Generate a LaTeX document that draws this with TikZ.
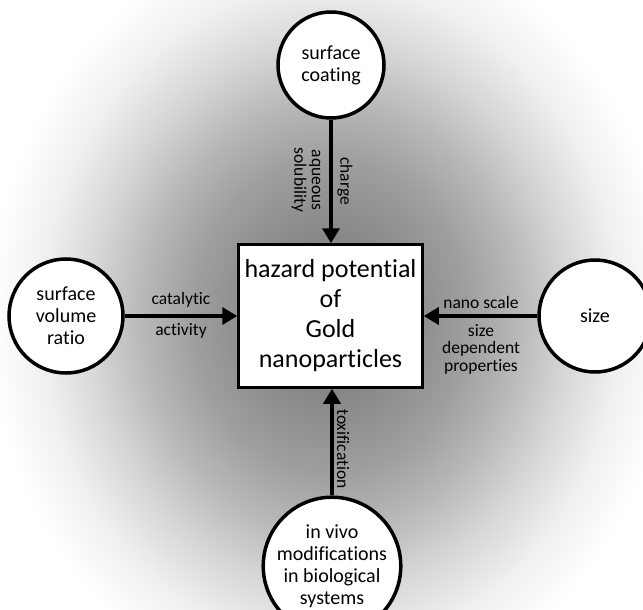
\documentclass[tikz,border=0pt]{standalone}
\usepackage{fontspec}
\setmainfont{Carlito}[Ligatures=NoCommon]
\usetikzlibrary{arrows.meta}
\pgfdeclareradialshading{bgshade}{\pgfpointorigin}{rgb(0bp)=(0.50,0.50,0.50); rgb(5bp)=(0.53,0.53,0.53); rgb(10bp)=(0.62,0.62,0.62); rgb(13.75bp)=(0.72,0.72,0.72); rgb(17.5bp)=(0.84,0.84,0.84); rgb(21.25bp)=(0.94,0.94,0.94); rgb(25bp)=(1,1,1); rgb(50bp)=(1,1,1)}
\begin{document}
\begin{tikzpicture}[x=1pt,y=-1pt,
  factor/.style={circle, draw=black, line width=3.5pt, fill=white, inner sep=0pt, align=center, font=\fontsize{20}{22}\selectfont},
  hub/.style={rectangle, draw=black, line width=2.5pt, fill=white, minimum width=184pt, minimum height=143pt, inner sep=0pt, align=center, font=\fontsize{26}{30}\selectfont},
  link/.style={line width=3.5pt, -{Triangle[length=15pt,width=17pt]}},
  lbl/.style={font=\fontsize{17.5}{17.5}\selectfont, align=center, inner sep=0pt}]
\useasboundingbox (0,0) rectangle (643,610);
\fill[white] (0,0) rectangle (643,610);
\shade[shading=bgshade] (330,316) ellipse (340pt and 390pt);
\node[hub] (box) at (330.5,316) {hazard potential\\of\\Gold\\nanoparticles};
\node[factor, minimum size=106pt] (top) at (331,65) {surface\\coating};
\node[factor, minimum size=114pt] (left) at (66,316) {surface\\volume\\ratio};
\node[factor, minimum size=112pt] (right) at (595,316) {size};
\node[factor, minimum size=110pt] (bottom) at (332,566) {in vivo\\modifications\\in biological\\systems};
\draw[link] (top.south) -- (top.south |- box.north);
\draw[link] (left.east) -- (left.east -| box.west);
\draw[link] (right.west) -- (right.west -| box.east);
\draw[link] (bottom.north) -- (bottom.north |- box.south);
\node[lbl] (cat) at (181,300) {catalytic};
\node[lbl] (act) at (181,331) {activity};
\node[lbl] (nano) at (481,302) {nano scale};
\node[lbl] (sdp) at (481,349) {size\\dependent\\properties};
\node[lbl, rotate=-90] (charge) at (345,181) {charge};
\node[lbl, rotate=-90] (aq) at (306,180) {aqueous\\solubility};
\node[lbl, rotate=-90] (tox) at (343,449) {toxification};
\end{tikzpicture}
\end{document}
